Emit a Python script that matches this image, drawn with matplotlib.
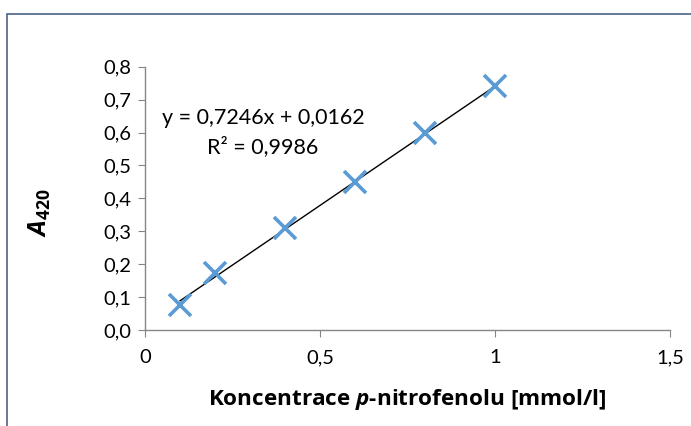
import matplotlib
matplotlib.use("Agg")
import matplotlib.pyplot as plt
import numpy as np
from matplotlib.patches import Rectangle

plt.rcParams['font.family'] = ['Lato', 'DejaVu Sans']
plt.rcParams['mathtext.fontset'] = 'custom'
plt.rcParams['mathtext.rm'] = 'Open Sans'
plt.rcParams['mathtext.it'] = 'Open Sans:italic'
plt.rcParams['mathtext.bf'] = 'Open Sans:bold'
plt.rcParams['mathtext.bfit'] = 'Open Sans:italic:bold'

conc = [0.1, 0.2, 0.4, 0.6, 0.8, 1.0]
absorb = [0.076, 0.172, 0.309, 0.451, 0.598, 0.740]
slope = 0.7246
intercept = 0.0162
r2 = 0.9986
xticks = [0, 0.5, 1, 1.5]
xticklabels = ['0', '0,5', '1', '1,5']
yticks = [0.0, 0.1, 0.2, 0.3, 0.4, 0.5, 0.6, 0.7, 0.8]

fig = plt.figure(figsize=(6.91, 4.26), dpi=100)
fig.patches.append(Rectangle((6.5/691, -0.1), 1.1, (426-14)/426 + 0.1, transform=fig.transFigure,
                             fill=False, edgecolor='#4a6584', linewidth=1.2))
ax = fig.add_axes([145/691, (426-330)/426, (670-145)/691, (330-66.7)/426])

xl = np.array([conc[0], conc[-1]])
ax.plot(xl, slope * xl + intercept, color='black', linewidth=1.0, zorder=2)
ax.plot(conc, absorb, linestyle='none', marker='x', markersize=16, markeredgewidth=2.6,
        color='#5b9bd5', zorder=3)

ax.set_xlim(0, 1.5)
ax.set_ylim(0, 0.8)
ax.set_xticks(xticks)
ax.set_xticklabels(xticklabels)
ax.set_yticks(yticks)
ax.set_yticklabels([f'{v:.1f}'.replace('.', ',') for v in yticks])
for s in ['top', 'right']:
    ax.spines[s].set_visible(False)
for s in ['left', 'bottom']:
    ax.spines[s].set_color('#868686')
    ax.spines[s].set_linewidth(1.0)
ax.tick_params(direction='out', length=5, color='#868686', labelsize=14.5, labelcolor='black', pad=5)
ax.tick_params(axis='x', pad=9)

fig.text(263/691, 1 - 118/426, f'y = {slope:.4f}x + {intercept:.4f}'.replace('.', ','),
         ha='center', va='center', fontsize=15.5)
fig.text(263/691, 1 - 147/426, f'R² = {r2:.4f}'.replace('.', ','), ha='center', va='center', fontsize=15.5)

fig.text(40/691, 1 - 213/426, r'$\mathbfit{A}_{\mathbf{420}}$', rotation=90, ha='center', va='center',
         fontsize=18)
fig.text(407/691, 1 - 399/426, r'Koncentrace $\mathbfit{p}$-nitrofenolu [mmol/l]', ha='center', va='center',
         fontsize=16.2, fontweight='bold', family='Open Sans')

fig.savefig('out.png', dpi=100)
